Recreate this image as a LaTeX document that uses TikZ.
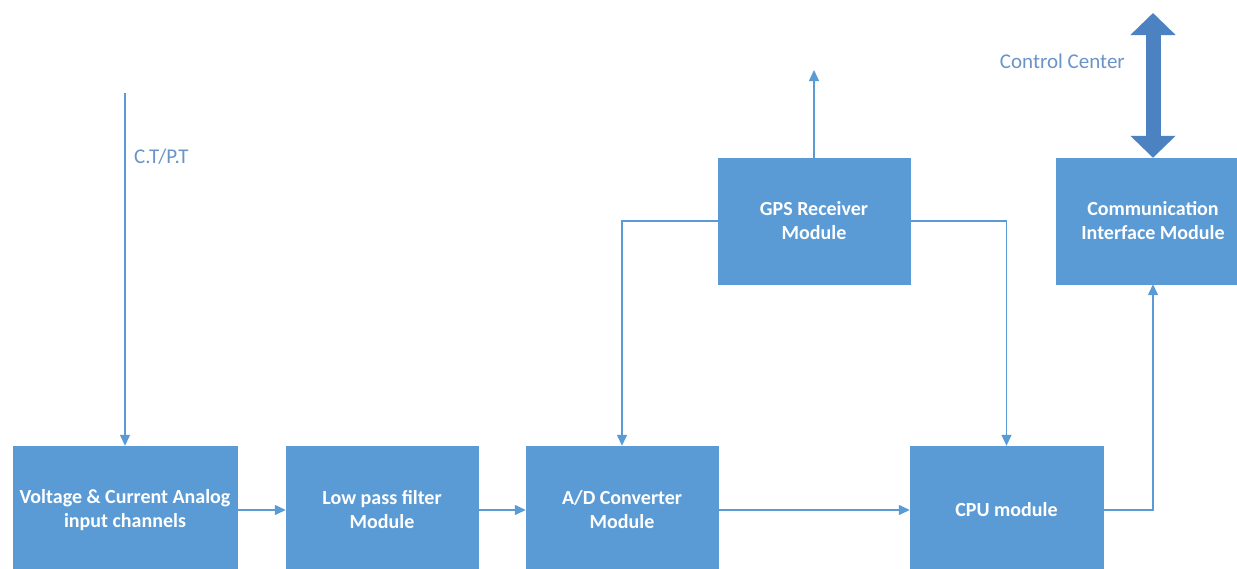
\documentclass[tikz,border=0pt]{standalone}
\usepackage{fontspec}
\setmainfont{Carlito}
\usetikzlibrary{arrows.meta}
\definecolor{boxblue}{HTML}{5B9BD5}
\definecolor{linkblue}{HTML}{5B9BD5}
\definecolor{busblue}{HTML}{4D82C2}
\definecolor{labelblue}{HTML}{6A93C8}
\tikzset{
  module/.style={rectangle, fill=boxblue, draw=boxblue, text=white,
    font=\bfseries\fontsize{20}{24}\selectfont, align=center,
    minimum width=192pt, minimum height=128pt, inner sep=0pt},
  conn/.style={draw=linkblue, line width=1.3pt,
    -{Triangle[width=10pt,length=11pt]}},
  bus/.style={draw=busblue, line width=15pt,
    {Triangle[width=44pt,length=22pt]}-{Triangle[width=44pt,length=22pt]}},
  sig/.style={text=labelblue, font=\fontsize{21}{24}\selectfont, inner sep=0pt}
}
\begin{document}
\begin{tikzpicture}[x=1pt, y=-1pt]
  \useasboundingbox (0,0) rectangle (1237,568);
  \clip (0,0) rectangle (1237,568);

  % processing chain
  \node[module, minimum width=224pt] (vin) at (125,510) {Voltage \& Current Analog\\input channels};
  \node[module] (lpf) at (382,510) {Low pass filter\\Module};
  \node[module] (adc) at (622,510) {A/D Converter\\Module};
  \node[module, minimum width=193pt] (cpu) at (1006.5,510) {CPU module};

  % upper modules
  \node[module, minimum height=126pt] (gps) at (814,221) {GPS Receiver\\Module};
  \node[module, minimum width=194pt, minimum height=126pt] (comm) at (1153,221) {Communication\\Interface Module};

  % free ends
  \coordinate (ctpt) at (125,93);
  \coordinate (gpsout) at (814,70);
  \coordinate (ctrl) at (1153,13);

  % labels
  \node[sig, anchor=west] (ctlabel) at (134,157) {C.T/P.T};
  \node[sig, anchor=east] (cclabel) at (1125,61) {Control Center};

  % signal flow
  \draw[conn] (ctpt) -- (vin.north);
  \draw[conn] (vin) -- (lpf);
  \draw[conn] (lpf) -- (adc);
  \draw[conn] (adc) -- (cpu);
  \draw[conn] (cpu.east) -| (comm.south);
  \draw[conn] (gps.west) -| (adc.north);
  \draw[conn] (gps.east) -| (cpu.north);
  \draw[conn] (gps.north) -- (gpsout);

  % link to the control center
  \draw[bus] (comm.north) -- (ctrl);
\end{tikzpicture}
\end{document}
